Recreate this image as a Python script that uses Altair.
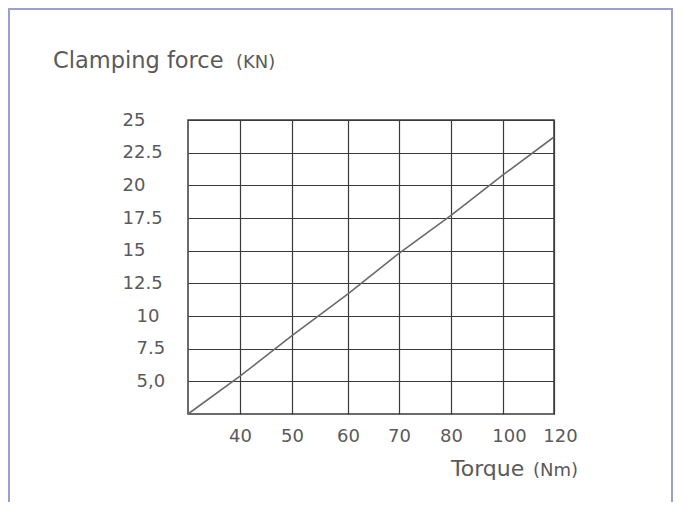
import json
import altair as alt
import pandas as pd

# ---- data ----
torque = [30, 40, 50, 60, 70, 80, 100, 120]
force = [2.5, 5.4, 8.5, 11.7, 14.8, 17.7, 20.8, 23.7]

x_ticks = [40, 50, 60, 70, 80, 100, 120]
y_ticks = [5, 7.5, 10, 12.5, 15, 17.5, 20, 22.5, 25]
y_labels = ["5,0", "7.5", "10", "12.5", "15", "17.5", "20", "22.5", "25"]

title_main = "Clamping force"
title_unit = "(KN)"
xtitle_main = "Torque"
xtitle_unit = "(Nm)"

# uneven column layout of the grid (pixel positions of the torque grid lines)
x_domain = torque
x_range = [0, 52, 104, 160, 211, 263, 315, 366]

W, H = 366, 294
PAD_L, PAD_T, PAD_R, PAD_B = 180, 112, 119, 88
FONT = "DejaVu Sans"
TXT = "#5a5a5a"
GRID = "#3a3a3a"

df = pd.DataFrame({"torque": torque, "force": force})

x_scale = alt.Scale(domain=x_domain, range=x_range)
y_scale = alt.Scale(domain=[2.5, 25])

y_label_expr = f"{json.dumps(y_labels)}[indexof({json.dumps(y_ticks)}, datum.value)]"

line = alt.Chart(df).mark_line(color="#6a6a6a", strokeWidth=1.6).encode(
    x=alt.X("torque:Q", scale=x_scale,
            axis=alt.Axis(values=x_ticks, title=None, domain=False, ticks=False,
                          grid=True, gridColor=GRID, gridWidth=1.2, gridOpacity=1,
                          labelFont=FONT, labelFontSize=18, labelColor=TXT,
                          labelPadding=13, labelOverlap=False, labelFlush=False,
                          labelOffset={"condition": {"test": "datum.value >= 100", "value": 6}, "value": 0})),
    y=alt.Y("force:Q", scale=y_scale,
            axis=alt.Axis(values=y_ticks, title=None, domain=False, ticks=False,
                          grid=True, gridColor=GRID, gridWidth=1.2, gridOpacity=1,
                          labelFont=FONT, labelFontSize=18, labelColor=TXT,
                          labelAlign="left", labelBaseline="middle", labelOverlap=False,
                          labelFlush=False, labelExpr=y_label_expr,
                          labelPadding={"condition": {"test": "datum.value <= 10", "value": 52}, "value": 66})),
)

one = pd.DataFrame({"a": [0]})

border = alt.Chart(one).mark_rect(fill=None, stroke="#9aa0cc", strokeWidth=2).encode(
    x=alt.value(1 - PAD_L), x2=alt.value(W + PAD_R - 1),
    y=alt.value(1 - PAD_T), y2=alt.value(H + PAD_B + 2)
)

def label(text, x, y, size, align="left"):
    return alt.Chart(pd.DataFrame({"t": [text]})).mark_text(
        font=FONT, fontSize=size, color=TXT, align=align, baseline="alphabetic"
    ).encode(text="t:N", x=alt.value(x), y=alt.value(y))

t1 = label(title_main, 53 - 188, 68 - 120, 22.5)
t2 = label(title_unit, 236 - 188, 68 - 120, 18)
t3 = label(xtitle_main, 451 - 188, 476 - 120, 22)
t4 = label(xtitle_unit, 578 - 188, 476 - 120, 18, align="right")

chart = alt.layer(border, line, t1, t2, t3, t4).properties(
    width=W, height=H,
    autosize=alt.AutoSizeParams(type="none"),
    padding={"left": PAD_L, "top": PAD_T, "right": PAD_R, "bottom": PAD_B},
    background="white",
).configure_view(stroke=GRID, strokeWidth=1.5)

chart.save("out.html", embed_options={"renderer": "svg", "actions": False})
